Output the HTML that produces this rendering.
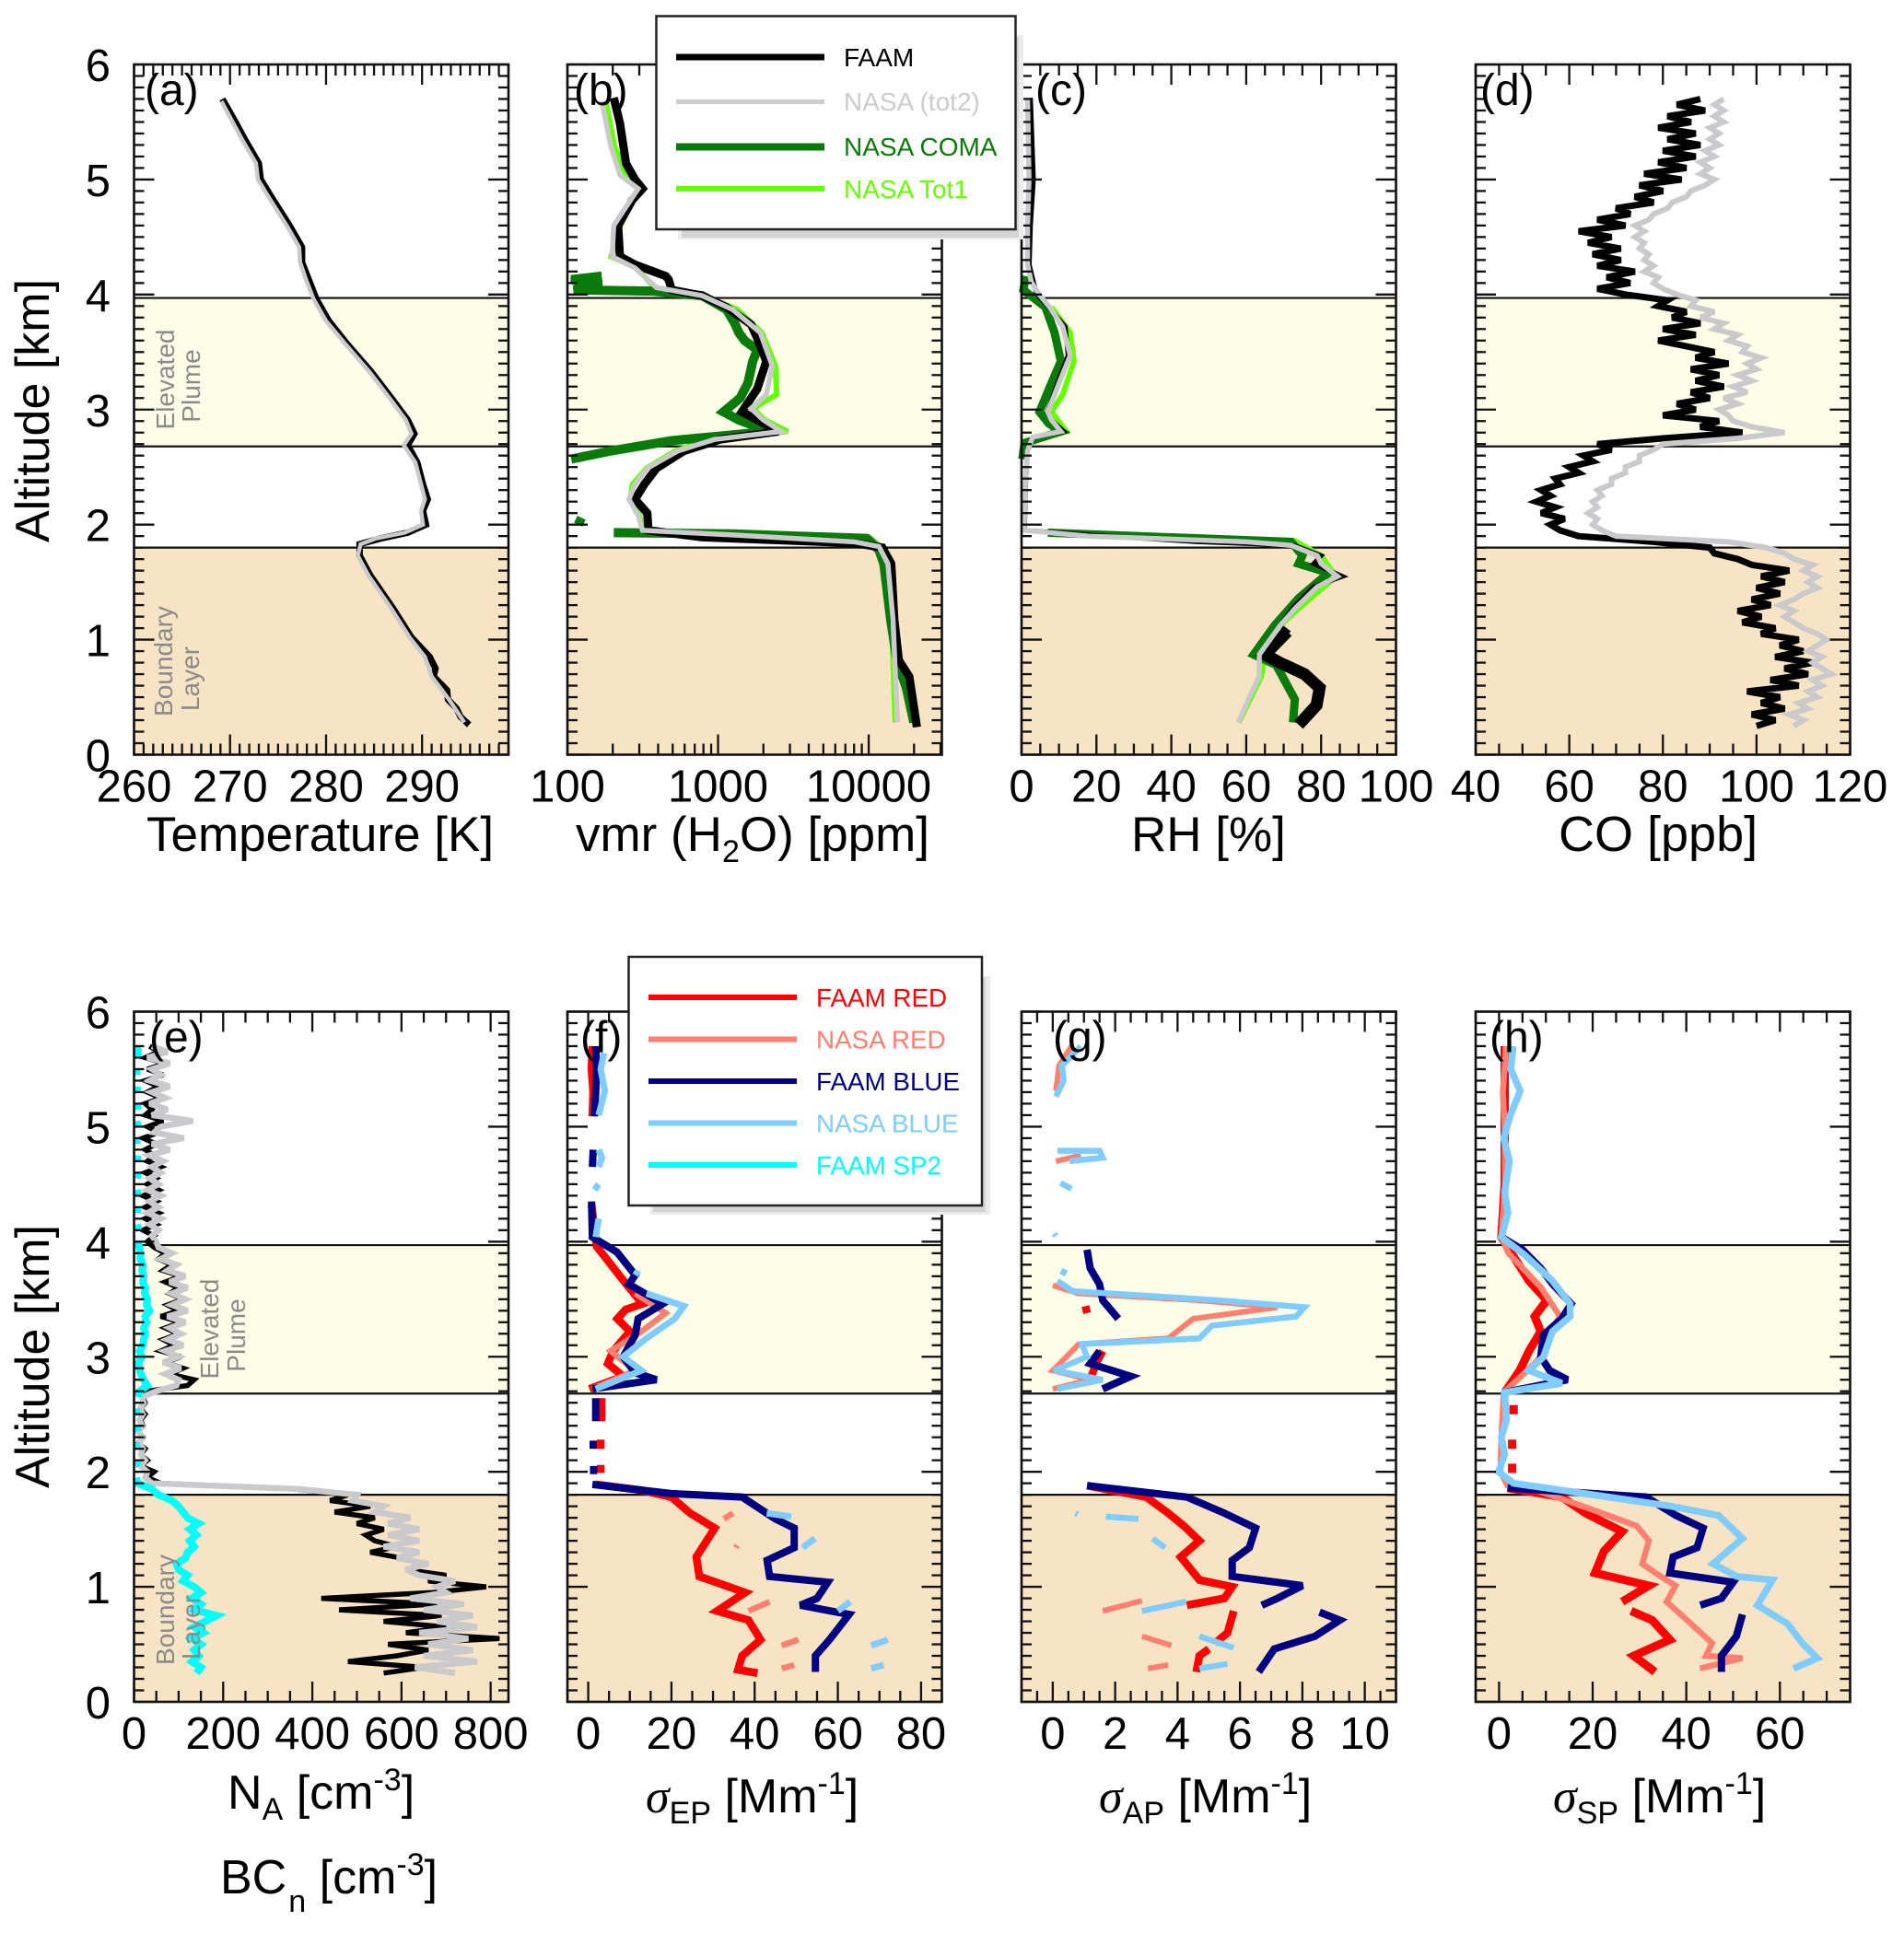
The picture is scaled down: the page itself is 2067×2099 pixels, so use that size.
<!DOCTYPE html>
<html lang="en">
<head>
<meta charset="utf-8">
<title>Vertical profiles of temperature, humidity, CO and aerosol optical properties</title>
<style>
html,body{margin:0;padding:0;background:#fff}
svg{display:block}
text{font-family:"Liberation Sans",sans-serif;fill:#000}
</style>
</head>
<body>
<svg id="chart" xmlns="http://www.w3.org/2000/svg" width="2067" height="2099" viewBox="0 0 2067 2099">
  <rect x="0" y="0" width="2067" height="2099" fill="#fff"/>
  <g id="panels"></g>

  <g font-size="52">
    <text transform="translate(53,446) rotate(-90)" text-anchor="middle">Altitude [km]</text>
    <text transform="translate(53,1473) rotate(-90)" text-anchor="middle">Altitude [km]</text>
  </g>

  <g font-size="53">
    <text x="159" y="924">Temperature [K]</text>
    <text x="625" y="924">vmr (H<tspan font-size="34" dy="12">2</tspan><tspan dy="-12">O) [ppm]</tspan></text>
    <text x="1228" y="924">RH [%]</text>
    <text x="1692" y="924" font-size="54">CO [ppb]</text>
    <text x="247" y="1964" font-size="52">N<tspan font-size="34" dy="12">A</tspan><tspan dy="-12"> [cm</tspan><tspan font-size="34" dy="-20">-3</tspan><tspan dy="20">]</tspan></text>
    <text x="239" y="2056" font-size="52">BC<tspan font-size="34" dy="20" dx="2">n</tspan><tspan dy="-20"> [cm</tspan><tspan font-size="34" dy="-20">-3</tspan><tspan dy="20">]</tspan></text>
    <text x="701" y="1968" font-size="52"><tspan font-family="Liberation Serif" font-style="italic">σ</tspan><tspan font-size="34" dy="12">EP</tspan><tspan dy="-12"> [Mm</tspan><tspan font-size="34" dy="-20">-1</tspan><tspan dy="20">]</tspan></text>
    <text x="1193" y="1968" font-size="52"><tspan font-family="Liberation Serif" font-style="italic">σ</tspan><tspan font-size="34" dy="12">AP</tspan><tspan dy="-12"> [Mm</tspan><tspan font-size="34" dy="-20">-1</tspan><tspan dy="20">]</tspan></text>
    <text x="1686" y="1968" font-size="52"><tspan font-family="Liberation Serif" font-style="italic">σ</tspan><tspan font-size="34" dy="12">SP</tspan><tspan dy="-12"> [Mm</tspan><tspan font-size="34" dy="-20">-1</tspan><tspan dy="20">]</tspan></text>
  </g>

  <g font-size="28">
    <text transform="translate(189,412) rotate(-90)" text-anchor="middle" style="fill:#8a8a8a">Elevated</text>
    <text transform="translate(217,419) rotate(-90)" text-anchor="middle" style="fill:#8a8a8a">Plume</text>
    <text transform="translate(187,718) rotate(-90)" text-anchor="middle" style="fill:#8a8a8a">Boundary</text>
    <text transform="translate(216,737) rotate(-90)" text-anchor="middle" style="fill:#8a8a8a">Layer</text>
    <text transform="translate(237,1443) rotate(-90)" text-anchor="middle" style="fill:#8a8a8a">Elevated</text>
    <text transform="translate(266,1450) rotate(-90)" text-anchor="middle" style="fill:#8a8a8a">Plume</text>
    <text transform="translate(189,1748) rotate(-90)" text-anchor="middle" style="fill:#8a8a8a">Boundary</text>
    <text transform="translate(217,1767) rotate(-90)" text-anchor="middle" style="fill:#8a8a8a">Layer</text>
  </g>

  <g>
    <rect x="736" y="38" width="375" height="222" fill="#ececec"/>
    <rect x="740" y="40" width="366" height="218" fill="#d4d4d4"/>
    <rect x="712.5" y="17.5" width="390" height="231.5" fill="#fff" stroke="#222" stroke-width="2.5"/>
    <line x1="734" x2="895" y1="62" y2="62" stroke="#000" stroke-width="7"/>
    <text x="916" y="72" font-size="28">FAAM</text>
    <line x1="734" x2="895" y1="110.5" y2="110.5" stroke="#cccccc" stroke-width="5"/>
    <text x="916" y="120" font-size="28" style="fill:#cccccc">NASA (tot2)</text>
    <line x1="734" x2="895" y1="159.5" y2="159.5" stroke="#0a7a0a" stroke-width="8"/>
    <text x="916" y="169" font-size="28" style="fill:#0a7a0a">NASA COMA</text>
    <line x1="734" x2="895" y1="205" y2="205" stroke="#66ff00" stroke-width="6"/>
    <text x="916" y="215" font-size="28" style="fill:#66ff00">NASA Tot1</text>
  </g>

  <g>
    <rect x="706" y="1060" width="369" height="259" fill="#ececec"/>
    <rect x="709" y="1062" width="361" height="254" fill="#d4d4d4"/>
    <rect x="682.5" y="1039" width="383.5" height="270" fill="#fff" stroke="#222" stroke-width="2.5"/>
    <line x1="704" x2="865" y1="1083" y2="1083" stroke="#ff0000" stroke-width="6"/>
    <text x="886" y="1093" font-size="27.8" style="fill:#ff0000">FAAM RED</text>
    <line x1="704" x2="865" y1="1128.5" y2="1128.5" stroke="#ff7f70" stroke-width="6"/>
    <text x="886" y="1138.5" font-size="27.8" style="fill:#ff7f70">NASA RED</text>
    <line x1="704" x2="865" y1="1174" y2="1174" stroke="#000080" stroke-width="6"/>
    <text x="886" y="1184" font-size="27.8" style="fill:#000080">FAAM BLUE</text>
    <line x1="704" x2="865" y1="1219.5" y2="1219.5" stroke="#80ccff" stroke-width="6"/>
    <text x="886" y="1229.5" font-size="27.8" style="fill:#80ccff">NASA BLUE</text>
    <line x1="704" x2="865" y1="1265" y2="1265" stroke="#00ffff" stroke-width="6"/>
    <text x="886" y="1275" font-size="27.8" style="fill:#00ffff">FAAM SP2</text>
  </g>
</svg>

<script>
/* ---------- tick labels ---------- */
const altitudeTicks = [0,1,2,3,4,5,6];
const tempTicks = [260,270,280,290];
const vmrTicks = [100,1000,10000];
const rhTicks = [0,20,40,60,80,100];
const coTicks = [40,60,80,100,120];
const naTicks = [0,200,400,600,800];
const epTicks = [0,20,40,60,80];
const apTicks = [0,2,4,6,8,10];
const spTicks = [0,20,40,60];

/* ---------- layer boundaries (km) ---------- */
const layerBoundaries = [1.8,2.68,3.97];

/* ---------- panel a: temperature ---------- */
const tempFaamAlt = [0.26,0.33,0.4,0.48,0.56,0.68,0.75,0.85,1.02,1.27,1.56,1.73,1.83,1.88,1.93,2.0,2.12,2.22,2.35,2.54,2.69,2.79,2.91,3.08,3.33,3.57,3.77,3.96,4.11,4.28,4.41,4.6,4.85,5.0,5.14,5.34,5.51,5.7];
const tempFaam = [294.9,294.0,293.6,292.7,292.6,291.2,291.4,290.8,288.9,287,284.6,283.5,283.5,285.7,288.5,290.4,290.1,290.6,290.1,289.5,288.5,289.2,288.5,287,284.7,282.2,280.3,279,278.3,277.5,277.5,276.2,274.3,273.2,273,271.6,270.5,269.2];
const tempNasaAlt = [0.28,0.48,0.68,0.85,1.02,1.27,1.56,1.73,1.83,1.88,1.93,2.0,2.12,2.22,2.35,2.54,2.69,2.79,2.91,3.08,3.33,3.57,3.77,3.96,4.11,4.28,4.41,4.6,4.85,5.0,5.14,5.34,5.51,5.68];
const tempNasa = [294.4,292.8,291.0,290.3,288.7,286.8,284.4,283.3,283.6,285.2,288.2,290.1,289.9,290.3,289.9,289.3,288.1,288.9,288.3,286.8,284.5,282.0,280.0,278.7,278.0,277.3,277.2,275.9,274.0,272.9,272.7,271.3,270.2,269.1];

/* ---------- panel b: water vapour ---------- */
const vmrFaamAlt = [5.71,5.49,5.14,5.0,4.92,4.82,4.6,4.33,4.26,4.16,4.13,4.04,3.99,3.89,3.74,3.62,3.42,3.18,2.98,2.91,2.81,2.74,2.64,2.49,2.35,2.22,2.1,1.95,1.89,1.84,1.8,1.66,1.17,0.82,0.68,0.24];
const vmrFaam = [203,223,245,281,315,269,217,223,281,449,470,492,785,1140,1655,1820,2090,1820,1439,1820,2515,1037,593,390,324,281,339,345,785,8070,12300,14100,14800,15850,18600,20900];
const vmrNasaTot2Alt = [5.68,5.29,5.04,4.92,4.8,4.6,4.33,4.23,4.06,3.99,3.87,3.67,3.38,3.13,3.01,2.91,2.81,2.74,2.64,2.49,2.35,2.22,2.08,1.95,1.91,1.85,1.81,1.66,1.17,0.28];
const vmrNasaTot2 = [169,194,223,295,256,203,198,281,390,785,1250,1905,2290,2090,1655,1995,2630,946,540,339,281,256,295,315,1250,8070,11700,13400,14500,15500];
const vmrComaAlt = [4.16,4.13,4.09,4.04,4.03,3.99,3.87,3.74,3.67,3.6,3.52,3.42,3.23,3.1,2.98,2.91,2.81,2.73,2.64,2.57,null,2.06,2.0,null,1.93,1.92,1.88,1.78,1.66,1.17,0.82,0.58,0.28];
const vmrComa = [169,106,169,110,372,785,1140,1300,1374,1500,1820,1700,1578,1400,1087,1374,2190,492,194,106,null,124,118,null,203,1250,9730,11700,12600,14000,15400,17800,19950];
const vmrTot1Alt = [5.68,5.29,5.04,4.92,4.8,4.6,4.33,4.23,4.06,3.99,3.87,3.67,3.38,3.13,3.01,2.91,2.81,2.74,2.64,2.49,2.35,2.22,2.08,1.95,1.91,1.88,1.81,1.66,1.17,0.28];
const vmrTot1 = [180,205,245,300,265,225,195,290,380,800,1340,1950,2400,2450,1700,2050,2900,900,520,335,270,262,300,320,1500,10300,12000,13000,14200,15000];

/* ---------- panel c: relative humidity ---------- */
const rhFaamAlt = [5.71,5,4.6,4.26,4.11,4.01,3.89,3.72,3.47,3.23,2.98,2.91,2.81,2.76,2.64,2.35,1.95,1.9,1.85,1.82,1.73,1.66,1.55,1.46,1.27,1.12,1.07,0.87];
const rhFaam = [2.4,3.2,2.4,2.1,3.2,4,7.2,11.7,12.4,9.6,6.9,8,11.3,3.2,1.6,1.1,0.8,23,47,73,80,78,85.7,78,72.3,69,71,65];
const rhFaamLowAlt = [1.07,0.87,0.8,0.7,0.58,0.43,0.26];
const rhFaamLow = [71,65,69,75.6,79.6,78.8,74];
const rhNasaTot2Alt = [5.71,5,4.6,4.26,4.11,4.01,3.89,3.72,3.47,3.23,2.98,2.91,2.81,2.76,2.64,2.35,1.95,1.9,1.85,1.82,1.73,1.66,1.55,1.46,1.27,1.12,0.87,0.68,0.48,0.28];
const rhNasaTot2 = [1.6,2,1.6,1.6,2.6,4.5,7.5,11,13,10,7,8,10.5,3,1.6,1,0.7,18,60,72,79,80,84.4,79,73,69,63.5,63.5,60.6,57.9];
const rhComaAlt = [4.16,4.04,3.89,3.67,3.42,3.23,2.98,2.88,2.81,2.71,2.57,null,1.93,1.85,1.73,1.66,1.58,1.36,1.12,0.87,0.78,0.63,0.48,0.28];
const rhComa = [1.1,0.5,6.4,8.8,10.5,8,4.8,7.2,10.5,0.8,0.2,null,7,72,75,74,82,74,67.5,62,68,70.5,73,72.5];
const rhTot1Alt = [3.89,3.67,3.42,3.13,2.98,2.81,2.71,null,1.91,1.86,1.73,1.55,1.27,1.12,0.87,0.68,0.48,0.28];
const rhTot1 = [8,13,14,11,8,12,1,null,20,73,80,84,74,69,65,64,61,58];

/* ---------- shared altitude levels of the noisy profiles (km) ---------- */
const altLevels = [
0.25,0.30,0.35,0.40,0.45,0.50,0.55,0.60,0.65,0.70,
0.75,0.80,0.85,0.90,0.95,1.00,1.05,1.10,1.15,1.20,
1.25,1.30,1.35,1.40,1.45,1.50,1.55,1.60,1.65,1.70,
1.75,1.80,1.85,1.90,1.95,2.00,2.05,2.10,2.15,2.20,
2.25,2.30,2.35,2.40,2.45,2.50,2.55,2.60,2.65,2.70,
2.75,2.80,2.85,2.90,2.95,3.00,3.05,3.10,3.15,3.20,
3.25,3.30,3.35,3.40,3.45,3.50,3.55,3.60,3.65,3.70,
3.75,3.80,3.85,3.90,3.95,4.00,4.05,4.10,4.15,4.20,
4.25,4.30,4.35,4.40,4.45,4.50,4.55,4.60,4.65,4.70,
4.75,4.80,4.85,4.90,4.95,5.00,5.05,5.10,5.15,5.20,
5.25,5.30,5.35,5.40,5.45,5.50,5.55,5.60,5.65,5.70];

/* ---------- panel d: carbon monoxide ---------- */
const coFaam = [
100,104,99,106,101,105,98,109,103,111,
106,112,104,110,105,109,101,104,97,101,
96,103,99,105,100,106,101,107,99,96,
91,90,78,62,58,56,59,54,57,53,
56,54,58,57,62,60,65,63,69,66,
80,97,88,92,80,87,83,90,86,93,
87,92,86,94,87,91,85,79,87,80,
88,82,85,79,81,72,66,73,68,74,
66,71,65,71,64,69,62,72,66,73,
70,78,74,80,75,84,76,85,79,87,
80,88,81,87,79,86,81,89,83,88];
const coNasa = [
108,110,107,111,109,113,111,114,112,116,
114,112,114,111,113,115,113,110,108,106,
108,105,108,110,113,111,113,110,112,108,
106,102,94,70,67,65,66,64,66,65,
67,66,69,69,72,72,75,75,78,80,
96,106,99,95,94,92,96,93,98,95,
99,96,100,98,101,97,98,94,96,91,
93,88,91,86,87,83,80,78,79,76,
78,76,77,75,76,74,76,74,77,78,
81,82,85,86,89,91,88,90,88,91,
89,92,90,92,90,93,91,93,91,93];

/* ---------- panel e: aerosol and black-carbon number ---------- */
const naFaam = [
560,650,480,590,660,570,820,610,700,560,
690,460,680,420,670,790,660,700,610,650,
600,530,590,540,520,560,500,540,450,530,
440,480,360,60,30,45,15,30,15,25,
10,20,10,20,15,25,15,25,20,30,
120,135,80,110,70,105,60,90,65,100,
70,105,60,100,75,110,80,100,70,105,
65,85,55,70,45,30,45,20,50,25,
55,25,50,20,55,30,50,25,60,30,
45,25,50,20,55,30,65,25,40,25,
60,30,55,25,65,30,70,25,55,35];
const naNasa = [
720,630,770,650,760,660,750,640,770,680,
760,650,740,620,700,680,720,640,610,660,
590,640,560,640,570,640,570,620,540,560,
490,500,370,40,25,30,15,25,15,20,
12,18,10,18,12,20,14,22,18,50,
95,100,70,105,65,100,70,110,75,105,
80,115,75,120,85,115,85,120,80,115,
75,95,60,85,55,50,40,55,35,60,
30,55,35,60,30,55,35,60,40,65,
35,80,40,112,45,60,132,40,75,35,
70,40,80,35,60,40,80,30,75,40];
const bcSp2 = [
140,150,130,145,135,150,130,155,135,160,
185,135,150,130,150,135,110,120,100,95,
115,120,135,125,140,125,145,120,110,100,
85,55,40,8,5,null,6,8,null,7,
5,null,8,6,null,7,5,null,10,12,
30,22,15,12,10,18,12,20,22,25,
22,28,25,35,28,30,24,25,20,22,
18,20,14,15,12,8,null,10,7,null,
8,6,null,9,6,null,7,9,null,6,
8,null,7,5,null,8,6,null,9,7,
null,6,8,null,7,5,null,8,9,6];

/* ---------- panel f: extinction ---------- */
const epFaamRedAlt = [0.25,0.28,0.40,0.54,0.71,0.79,0.95,1.09,1.26,1.51,1.64,1.78,1.84,1.89,null,2.72,2.83,2.94,3.05,3.22,3.33,3.41,3.46,3.66,3.96,4.32,null,2.64,2.44,null,2.28,2.2,null,2.06,1.99,null,5.09,5.3,5.5,5.7];
const epFaamRed = [40.7,36,37,41.4,38.5,31,37.7,26.7,26,30.4,24.5,20,12.8,1.8,null,0.3,8.4,4.7,6,10,7,9,13,8.5,2,0.8,null,3.2,3.2,null,3,3,null,3,3,null,1,1.2,0.8,1];
const epNasaRedAlt = [2.72,2.88,3.05,3.22,3.38,3.55,null,0.29,0.32,null,0.49,0.54,null,0.79,0.87,null,1.34,1.36,null,1.59,1.64];
const epNasaRed = [1,11.3,5.4,12.8,18.6,11.3,null,46.5,49.5,null,46.5,50.5,null,38.5,43.6,null,35.5,35.8,null,32.6,34.8];
const epFaamBlueAlt = [0.26,0.40,0.54,0.76,0.84,0.90,1.04,1.09,1.23,1.34,1.51,1.59,1.78,1.81,1.89,null,2.72,2.80,2.86,3.0,3.19,3.33,3.46,3.63,3.71,3.91,4.04,4.35,null,2.64,2.44,null,2.27,2.2,null,2.05,1.98,null,4.65,4.8,null,5.09,5.3,5.5,5.7];
const epFaamBlue = [54.6,54.6,58,62.7,51,55,57.6,43.6,43,49.5,49.5,45,37,20,1,null,1,16.4,11.3,8.4,11.3,12,17.9,9.8,11.3,6.9,1,0.8,null,1.8,1.8,null,1.2,1.2,null,1.3,1.3,null,1,1.2,null,1.5,1.8,2,1.8];
const epNasaBlueAlt = [2.72,2.88,3.0,3.16,3.33,3.44,3.55,null,3.71,3.75,null,4.04,4.2,null,4.45,4.5,null,4.65,4.73,4.8,null,5.1,5.31,5.5,5.64,null,0.29,0.32,null,0.49,0.54,null,0.79,0.87,null,1.34,1.42,null,1.61,1.64];
const epNasaBlue = [1.8,12.8,8.4,14,20.8,23,14,null,11.3,12,null,1.8,2.5,null,1.5,2.5,null,2.5,3.3,2.5,null,2.5,4,3,3.8,null,68,71,null,68,72,null,60,63,null,51.5,54.5,null,48.8,42.9];

/* ---------- panel g: absorption ---------- */
const apFaamRedAlt = [0.26,0.40,0.46,null,0.51,0.60,0.79,null,0.84,0.90,1.0,1.06,1.26,1.40,1.53,1.64,1.78,1.88,null,3.38,3.44,null,2.8,2.95,3.05];
const apFaamRed = [4.6,4.7,5,null,5.2,5.6,5.8,null,4.3,5.5,5.75,4.7,4.1,4.7,4.2,3.7,3,1.1,null,1.1,1.05,null,1.2,1.4,1.6];
const apNasaRedAlt = [2.72,2.8,2.88,3,3.11,3.16,3.33,3.43,3.49,3.55,3.62,null,0.79,0.88,null,0.49,0.57,null,0.29,0.32,null,5.31,5.53,5.7,null,4.7,4.75];
const apNasaRed = [0,1.2,0,0.44,0.83,3.7,4.5,7.2,4.7,0.83,0,null,1.6,2.86,null,3.8,2.86,null,3.05,3.7,null,0.1,0.2,0.6,null,0.1,0.9];
const apFaamBlueAlt = [0.26,0.46,0.57,0.71,0.78,null,0.84,0.90,1.01,1.09,1.23,1.34,1.51,1.64,1.78,1.88,null,2.72,2.83,2.94,3.05,null,3.33,3.49,3.63,3.77,3.93];
const apFaamBlue = [6.6,7.1,8.4,9.2,8.55,null,6.7,7.2,8,5.75,5.75,6.3,6.5,5.5,4.3,1.1,null,1.6,2.5,1.2,1.5,null,2.1,1.6,1.5,1.2,1.1];
const apNasaBlueAlt = [2.72,2.8,2.88,3,3.11,3.16,3.27,3.35,3.43,3.49,3.57,3.66,null,3.71,3.76,null,4.79,4.79,4.73,4.7,null,4.51,4.46,null,4.07,4.05,null,5.26,5.4,5.53,5.7,null,1.64,1.63,null,1.61,1.59,null,1.42,1.34,null,0.79,0.87,null,0.57,0.47,null,0.29,0.33];
const apNasaBlue = [0.15,1.6,0.05,1.1,0.93,4.7,5.1,7.8,8.07,5.3,0.64,0.15,null,0.3,0.4,null,0.15,1.5,1.6,0.54,null,0.25,0.6,null,0.05,0.1,null,0.1,0.35,0.3,0.9,null,0.73,0.8,null,1.7,2.75,null,3.2,3.6,null,2.86,4.27,null,4.7,5.8,null,4.7,5.6];

/* ---------- panel h: scattering ---------- */
const spFaamRedAlt = [0.26,0.40,0.54,0.71,0.79,null,0.87,1.01,1.12,1.31,1.48,1.64,1.78,1.86,null,2.69,2.88,3.05,3.22,3.35,3.49,3.66,3.82,4.04,4.5,5.0,5.7,null,2.58,2.5,null,2.28,2.2,null,2.07,1.99];
const spFaamRed = [33.3,28.8,36.5,32.7,28.2,null,26.3,32,20.5,22.4,26.3,18.5,13.4,1.8,null,1.2,4.4,6.4,8.9,7.6,10.2,6.4,3.9,0.5,1.2,1.2,1.2,null,3.1,3.1,null,2.8,2.8,null,2.8,2.8];
const spNasaRedAlt = [0.29,0.38,0.40,0.51,0.68,0.87,1.01,1.09,1.2,1.4,1.53,1.67,1.84,1.88,2.0,2.3,2.69,2.88,3.0,3.22,3.35,3.6,3.9,4.04,4.5,5,5.3,5.7];
const spNasaRed = [42.9,52,44.2,45.5,41,35.8,37.7,34.5,30.6,32,29.4,20,8,1.8,0.3,0.5,1,6,9,11,13,9,2,0.5,1.3,1.2,0.8,1.5];
const spFaamBlueAlt = [0.26,0.40,0.57,0.76,null,0.84,0.9,1.04,1.12,1.26,1.34,1.51,1.62,1.78,1.86,null,2.69,2.8,2.88,3,3.19,3.33,3.46,3.63,3.77,3.93,4.04];
const spFaamBlue = [47.5,47.5,50.7,52,null,43,47.5,50,36.5,37.2,42.3,43.6,37.8,31.4,1.8,null,1.2,14.6,10.8,8.9,9.5,13.4,15.4,11.5,8.9,5,0.5];
const spNasaBlueAlt = [0.29,0.38,0.51,0.68,0.84,1.06,1.09,1.2,1.42,1.62,1.7,1.84,1.9,2,2.15,2.3,2.45,2.69,2.77,2.88,3,3.22,3.35,3.46,3.66,3.88,4.04,4.25,4.43,4.7,4.9,5.1,5.31,5.5,5.7];
const spNasaBlue = [62.9,68,64.8,61.6,55.2,58.4,50.8,45.7,52,46.9,36.7,13.4,3.1,-0.1,1.2,0.5,1.6,1.2,13.4,6.4,9.5,11.4,15.2,15.2,11.4,5.6,0.5,1.9,1.2,2.2,1,2.4,4.5,2.5,3];

/* ---------- colours ---------- */
const BLACK='#000000',GREY='#cacacd',COMA='#0a7a0a',LIME='#66ff00',RED='#ff0000',SALMON='#ff7f70',NAVY='#000080',SKY='#80ccff',CYAN='#00ffff';

const panelLayout = [
 {id:'a',label:'(a)',left:145.5,top:70,labelX:157,dMin:260,dMax:299,ticks:tempTicks,minor:1,yLabels:true,series:[
   {name:'temperature-faam',alts:tempFaamAlt,vals:tempFaam,color:BLACK,width:7},
   {name:'temperature-nasa',alts:tempNasaAlt,vals:tempNasa,color:GREY,width:4.5}]},
 {id:'b',label:'(b)',left:616,top:70,labelX:623,dMin:100,dMax:30600,log:true,ticks:vmrTicks,series:[
   {name:'vmr-nasa-tot1',alts:vmrTot1Alt,vals:vmrTot1,color:LIME,width:6},
   {name:'vmr-nasa-coma',alts:vmrComaAlt,vals:vmrComa,color:COMA,width:10},
   {name:'vmr-faam',alts:vmrFaamAlt,vals:vmrFaam,color:BLACK,width:9},
   {name:'vmr-nasa-tot2',alts:vmrNasaTot2Alt,vals:vmrNasaTot2,color:GREY,width:5.5}]},
 {id:'c',label:'(c)',left:1109,top:70,labelX:1124,dMin:0,dMax:100,ticks:rhTicks,minor:5,series:[
   {name:'rh-nasa-tot1',alts:rhTot1Alt,vals:rhTot1,color:LIME,width:6},
   {name:'rh-nasa-coma',alts:rhComaAlt,vals:rhComa,color:COMA,width:9},
   {name:'rh-faam',alts:rhFaamAlt,vals:rhFaam,color:BLACK,width:5},
   {name:'rh-faam-lower',alts:rhFaamLowAlt,vals:rhFaamLow,color:BLACK,width:13},
   {name:'rh-nasa-tot2',alts:rhNasaTot2Alt,vals:rhNasaTot2,color:GREY,width:5.5}]},
 {id:'d',label:'(d)',left:1602,top:70,labelX:1607,dMin:40,dMax:120,ticks:coTicks,minor:5,series:[
   {name:'co-faam',alts:altLevels,vals:coFaam,color:BLACK,width:7},
   {name:'co-nasa',alts:altLevels,vals:coNasa,color:GREY,width:6}]},
 {id:'e',label:'(e)',left:145.5,top:1098.5,labelX:162,dMin:0,dMax:840,ticks:naTicks,minor:50,yLabels:true,series:[
   {name:'na-faam',alts:altLevels,vals:naFaam,color:BLACK,width:5.5},
   {name:'na-nasa',alts:altLevels,vals:naNasa,color:GREY,width:6.5},
   {name:'bc-faam-sp2',alts:altLevels,vals:bcSp2,color:CYAN,width:8}]},
 {id:'f',label:'(f)',left:616,top:1098.5,labelX:630,dMin:-5,dMax:85,ticks:epTicks,minor:5,series:[
   {name:'ep-faam-red',alts:epFaamRedAlt,vals:epFaamRed,color:RED,width:8.5},
   {name:'ep-nasa-red',alts:epNasaRedAlt,vals:epNasaRed,color:SALMON,width:6.5},
   {name:'ep-faam-blue',alts:epFaamBlueAlt,vals:epFaamBlue,color:NAVY,width:8},
   {name:'ep-nasa-blue',alts:epNasaBlueAlt,vals:epNasaBlue,color:SKY,width:7}]},
 {id:'g',label:'(g)',left:1109,top:1098.5,labelX:1143,dMin:-1,dMax:11,ticks:apTicks,minor:0.5,series:[
   {name:'ap-faam-red',alts:apFaamRedAlt,vals:apFaamRed,color:RED,width:8.5},
   {name:'ap-nasa-red',alts:apNasaRedAlt,vals:apNasaRed,color:SALMON,width:6},
   {name:'ap-faam-blue',alts:apFaamBlueAlt,vals:apFaamBlue,color:NAVY,width:8},
   {name:'ap-nasa-blue',alts:apNasaBlueAlt,vals:apNasaBlue,color:SKY,width:6.5}]},
 {id:'h',label:'(h)',left:1602,top:1098.5,labelX:1617,dMin:-5,dMax:75,ticks:spTicks,minor:5,series:[
   {name:'sp-faam-red',alts:spFaamRedAlt,vals:spFaamRed,color:RED,width:9},
   {name:'sp-nasa-red',alts:spNasaRedAlt,vals:spNasaRed,color:SALMON,width:6.5},
   {name:'sp-faam-blue',alts:spFaamBlueAlt,vals:spFaamBlue,color:NAVY,width:8},
   {name:'sp-nasa-blue',alts:spNasaBlueAlt,vals:spNasaBlue,color:SKY,width:7.5}]}
];

const PANEL_W = 406.5, PANEL_H = 749.5, NS = 'http://www.w3.org/2000/svg';
const host = document.getElementById('panels');

function make(tag, attrs, parent){
  const el = document.createElementNS(NS, tag);
  for (const k in attrs) el.setAttribute(k, attrs[k]);
  parent.appendChild(el);
  return el;
}

panelLayout.forEach(function(p){
  const g = make('g', {}, host);
  
  

  const xScale = p.log
    ? function(v){ return p.left + PANEL_W * (Math.log10(v) - Math.log10(p.dMin)) / (Math.log10(p.dMax) - Math.log10(p.dMin)); }
    : function(v){ return p.left + PANEL_W * (v - p.dMin) / (p.dMax - p.dMin); };
  const bottom = p.top + PANEL_H;
  const yScale = function(alt){ return bottom - PANEL_H * alt / 6; };

  /* layer bands */
  const bandLow = make('rect', {x:p.left, y:yScale(layerBoundaries[0]), width:PANEL_W, height:bottom - yScale(layerBoundaries[0]), fill:'#f6e4c4'}, g);
  
  
  const bandPlume = make('rect', {x:p.left, y:yScale(layerBoundaries[2]), width:PANEL_W, height:yScale(layerBoundaries[1]) - yScale(layerBoundaries[2]), fill:'#fefee8'}, g);
  
  
  layerBoundaries.forEach(function(b){
    const l = make('line', {x1:p.left, x2:p.left + PANEL_W, y1:yScale(b), y2:yScale(b), stroke:'#111', 'stroke-width':2.2}, g);
    
    
  });

  /* series */
  p.series.forEach(function(s){
    let d = '', pen = false;
    for (let i = 0; i < s.vals.length; i++){
      if (s.vals[i] === null || s.alts[i] === null){ pen = false; continue; }
      d += (pen ? 'L' : 'M') + xScale(s.vals[i]).toFixed(1) + ' ' + yScale(s.alts[i]).toFixed(1);
      pen = true;
    }
    const path = make('path', {d:d, fill:'none', stroke:s.color, 'stroke-width':s.width, 'stroke-linejoin':'miter', 'stroke-miterlimit':3}, g);
    
    
  });

  /* ticks */
  const tickGroup = make('g', {stroke:'#111', 'stroke-width':2.3}, g);
  
  
  function xTick(v, len){
    const x = xScale(v);
    make('line', {x1:x, x2:x, y1:bottom, y2:bottom - len}, tickGroup);
    make('line', {x1:x, x2:x, y1:p.top, y2:p.top + len}, tickGroup);
  }
  function yTick(alt, len){
    const y = yScale(alt);
    make('line', {x1:p.left, x2:p.left + len, y1:y, y2:y}, tickGroup);
    make('line', {x1:p.left + PANEL_W, x2:p.left + PANEL_W - len, y1:y, y2:y}, tickGroup);
  }
  if (p.log){
    for (let dec = 100; dec < p.dMax; dec *= 10){
      for (let m = 1; m < 10; m++){
        const v = dec * m;
        if (v <= p.dMax) xTick(v, m === 1 ? 22 : 12);
      }
    }
  } else {
    const n = Math.round((p.dMax - p.dMin) / p.minor);
    const start = Math.ceil(p.dMin / p.minor) * p.minor;
    for (let i = 0; i <= n; i++){
      const v = start + i * p.minor;
      if (v > p.dMax + 1e-6) break;
      xTick(v, p.ticks.indexOf(v) >= 0 ? 22 : 12);
    }
  }
  for (let i = 0; i <= 60; i++){
    if (i % 10 === 0) yTick(i / 10, 22); else yTick(i / 10, 11);
  }

  /* frame */
  const frame = make('rect', {x:p.left, y:p.top, width:PANEL_W, height:PANEL_H, fill:'none', stroke:'#111', 'stroke-width':2.6}, g);
  
  

  /* tick labels */
  p.ticks.forEach(function(v){
    const t = make('text', {x:xScale(v), y:bottom + 51, 'text-anchor':'middle', 'font-size':49}, g);
    t.textContent = String(v);
    
    
  });
  if (p.yLabels){
    altitudeTicks.forEach(function(a){
      const t = make('text', {x:120, y:yScale(a) + 18, 'text-anchor':'end', 'font-size':49}, g);
      t.textContent = String(a);
      
      
    });
  }

  /* panel letter */
  const lab = make('text', {x:p.labelX, y:p.top + 44, 'font-size':48}, g);
  lab.textContent = p.label;
  
  
});
</script>
</body>
</html>
